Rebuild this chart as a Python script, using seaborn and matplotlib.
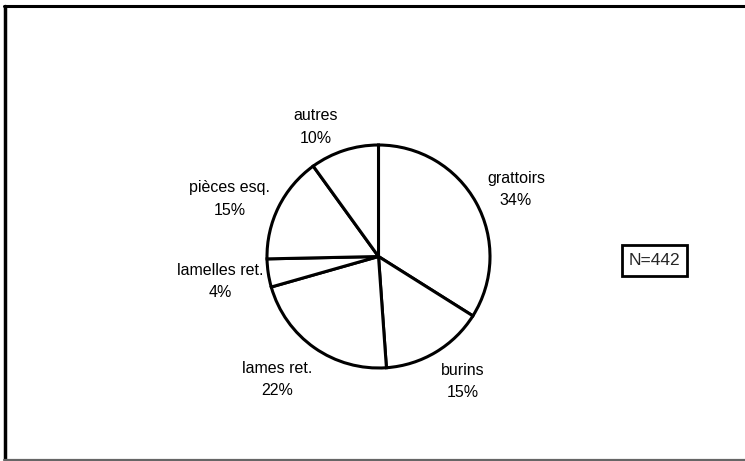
import matplotlib
matplotlib.use("Agg")
import matplotlib.pyplot as plt
import seaborn as sns
import numpy as np
from matplotlib.lines import Line2D
from matplotlib.patches import Rectangle

categories = ["grattoirs", "burins", "lames ret.", "lamelles ret.", "pièces esq.", "autres"]
counts = [150, 66, 96, 18, 68, 44]
pct_labels = ["34%", "15%", "22%", "4%", "15%", "10%"]
total_label = "N=442"

sns.set_theme(style="white")
plt.rcParams['font.family'] = ['Liberation Sans', 'DejaVu Sans']

W, H = 745, 461
fig = plt.figure(figsize=(W / 100, H / 100), dpi=100)
fig.patch.set_facecolor("white")

R = 111.5
cx, cy = 378.5, 256.5
lim = 1.8
size = 2 * lim * R
ax = fig.add_axes([(cx - size / 2) / W, (H - cy - size / 2) / H, size / W, size / H])
wedges, _ = ax.pie(counts, startangle=90, counterclock=False,
                   colors=["white"] * len(counts),
                   wedgeprops=dict(edgecolor="black", linewidth=2.2))
ax.set_xlim(-lim, lim)
ax.set_ylim(-lim, lim)
ax.set_aspect("equal")
ax.axis("off")

label_r = [1.37, 1.35, 1.43, 1.44, 1.43, 1.29]
label_shift = [-3, 3, -4.6, 0.5, 5.3, 8]
for w, cat, pl, lr, sh in zip(wedges, categories, pct_labels, label_r, label_shift):
    th = np.deg2rad((w.theta1 + w.theta2) / 2 + sh)
    x, y = lr * np.cos(th), lr * np.sin(th)
    ax.text(x, y, f"{cat}\n{pl}", ha="center", va="center", fontsize=11.5,
            linespacing=1.62, color="black")

# N box
fig.add_artist(Rectangle((622 / W, 1 - 275.5 / H), 65 / W, 30.5 / H, transform=fig.transFigure,
                         facecolor="white", edgecolor="black", linewidth=2))
fig.text(654.5 / W, 1 - 260.5 / H, total_label, ha="center", va="center", fontsize=12.5)

# outer frame
fig.add_artist(Line2D([5 / W, 5 / W], [1 - 6 / H, 1 - 459 / H], transform=fig.transFigure,
                      color="black", linewidth=2.5))
fig.add_artist(Line2D([4 / W, 1.0], [1 - 6.5 / H, 1 - 6.5 / H], transform=fig.transFigure,
                      color="black", linewidth=2.2))
fig.add_artist(Line2D([4 / W, 1.0], [1 - 459.5 / H, 1 - 459.5 / H], transform=fig.transFigure,
                      color="#666666", linewidth=1.6))

fig.savefig("out.png", dpi=100, facecolor="white")
